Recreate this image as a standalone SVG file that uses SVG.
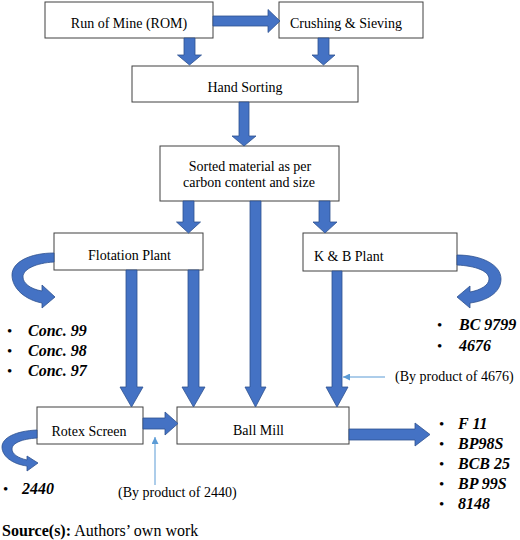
<svg xmlns="http://www.w3.org/2000/svg" width="520" height="540" viewBox="0 0 520 540">
<style>
.box{fill:#fff;stroke:#404040;stroke-width:1}
.t{font-family:"Liberation Serif","Times New Roman",serif;font-size:14px;fill:#000}
.c{text-anchor:middle}
.b{font-family:"Liberation Serif","Times New Roman",serif;font-size:16px;font-weight:bold;font-style:italic;fill:#000}
.dot{font-family:"Liberation Serif","Times New Roman",serif;font-size:15px;fill:#000}
.ba{fill:#4472C4;stroke:#2F528F;stroke-width:0.8}
.thin{stroke:#5B9BD5;stroke-width:1;fill:none}
</style>
<defs>
<marker id="ah" viewBox="0 0 10 10" refX="10" refY="5" markerWidth="7" markerHeight="7" orient="auto" markerUnits="userSpaceOnUse">
<path d="M0,0 L10,5 L0,10 Z" fill="#5B9BD5"/>
</marker>
</defs>
<rect width="520" height="540" fill="#fff"/>
<g id="rom"><rect class="box" x="45" y="2" width="168" height="36"/><text class="t c" x="129" y="28">Run of Mine (ROM)</text></g>
<g id="crushing"><rect class="box" x="279" y="2" width="144" height="36"/><text class="t c" x="346" y="28">Crushing &amp; Sieving</text></g>
<g id="handsorting"><rect class="box" x="132" y="66" width="226" height="36"/><text class="t c" x="245" y="92">Hand Sorting</text></g>
<g id="sorted"><rect class="box" x="160" y="146" width="179" height="55"/><text class="t c" x="250" y="171">Sorted material as per</text><text class="t c" x="249" y="187">carbon content and size</text></g>
<g id="flotation"><rect class="box" x="54" y="233" width="149" height="37"/><text class="t c" x="129.5" y="260">Flotation Plant</text></g>
<g id="kb"><rect class="box" x="303" y="233" width="154" height="38"/><text class="t" x="314" y="261">K &amp; B Plant</text></g>
<g id="rotex"><rect class="box" x="37" y="407" width="106" height="37"/><text class="t" x="89" y="436" text-anchor="middle">Rotex Screen</text></g>
<g id="ballmill"><rect class="box" x="177" y="407" width="172" height="37"/><text class="t c" x="258.5" y="435">Ball Mill</text></g>
<g id="connectors">
<polygon class="ba" points="213,16 268,16 268,9.5 280,21 268,32.5 268,26 213,26"/>
<polygon class="ba" points="184,38 195,38 195,55 201.5,55 189.5,65 177.5,55 184,55"/>
<polygon class="ba" points="318,38 329,38 329,55 335,55 323.5,65 312,55 318,55"/>
<polygon class="ba" points="239,102 249,102 249,136 256,136 244,146 232,136 239,136"/>
<polygon class="ba" points="183,201 194,201 194,222 200.5,222 188.5,233 176.5,222 183,222"/>
<polygon class="ba" points="319,201 330,201 330,222 337,222 325,233 313,222 319,222"/>
<polygon class="ba" points="250,201 261,201 261,387 266,387 255.5,407 245,387 250,387"/>
<polygon class="ba" points="126,270 137,270 137,387 143,387 131.5,407 120,387 126,387"/>
<polygon class="ba" points="188,270 199,270 199,387 205,387 193.5,407 182,387 188,387"/>
<polygon class="ba" points="332,271 342,271 342,387 348,387 337,407 326,387 332,387"/>
<polygon class="ba" points="143,418 165,418 165,412 178,423.5 165,435 165,429 143,429"/>
<polygon class="ba" points="349,429 415,429 415,423 430,434.5 415,446 415,440 349,440"/>
<path class="ba" d="M54,253 C30,253 12,262 12,275 C12,289 26,300 42,303 L42,308 L55,297 L42,285 L42,291 C30,289 23,283 23,277 C23,269 36,263 54,262 Z"/>
<path class="ba" d="M457,255 C482,255 501,265 501,279 C501,293 486,301 470,303 L470,308 L457,297 L470,286 L470,292 C481,290 489,285 489,279 C489,271 476,266 457,265 Z"/>
<path class="ba" d="M37,430 C15,431 2,438 2,447 C2,456 12,464 27,466 L27,471 L38,463 L27,456 L27,460 C18,458 12,454 12,449 C12,443 22,439 37,438 Z"/>
<line class="thin" x1="385" y1="377" x2="343" y2="377" marker-end="url(#ah)"/>
<line class="thin" x1="155" y1="485" x2="155" y2="437" marker-end="url(#ah)"/>
</g>
<g id="labels">
<text class="dot" x="7" y="336">•</text><text class="b" x="28" y="336">Conc. 99</text>
<text class="dot" x="7" y="356">•</text><text class="b" x="28" y="356">Conc. 98</text>
<text class="dot" x="7" y="376">•</text><text class="b" x="28" y="376">Conc. 97</text>
<text class="dot" x="437" y="330">•</text><text class="b" x="459" y="330">BC 9799</text>
<text class="dot" x="437" y="351">•</text><text class="b" x="459" y="351">4676</text>
<text class="t" x="395" y="381">(By product of 4676)</text>
<text class="dot" x="3" y="494">•</text><text class="b" x="22" y="494">2440</text>
<text class="t" x="118" y="497">(By product of 2440)</text>
<text class="dot" x="439" y="429">•</text><text class="b" x="458" y="429">F 11</text>
<text class="dot" x="439" y="449">•</text><text class="b" x="458" y="449">BP98S</text>
<text class="dot" x="439" y="469">•</text><text class="b" x="458" y="469">BCB 25</text>
<text class="dot" x="439" y="489">•</text><text class="b" x="458" y="489">BP 99S</text>
<text class="dot" x="439" y="509">•</text><text class="b" x="458" y="509">8148</text>
<text class="t" x="2" y="536" style="font-size:16px"><tspan font-weight="bold">Source(s):</tspan> Authors’ own work</text>
</g>
</svg>
